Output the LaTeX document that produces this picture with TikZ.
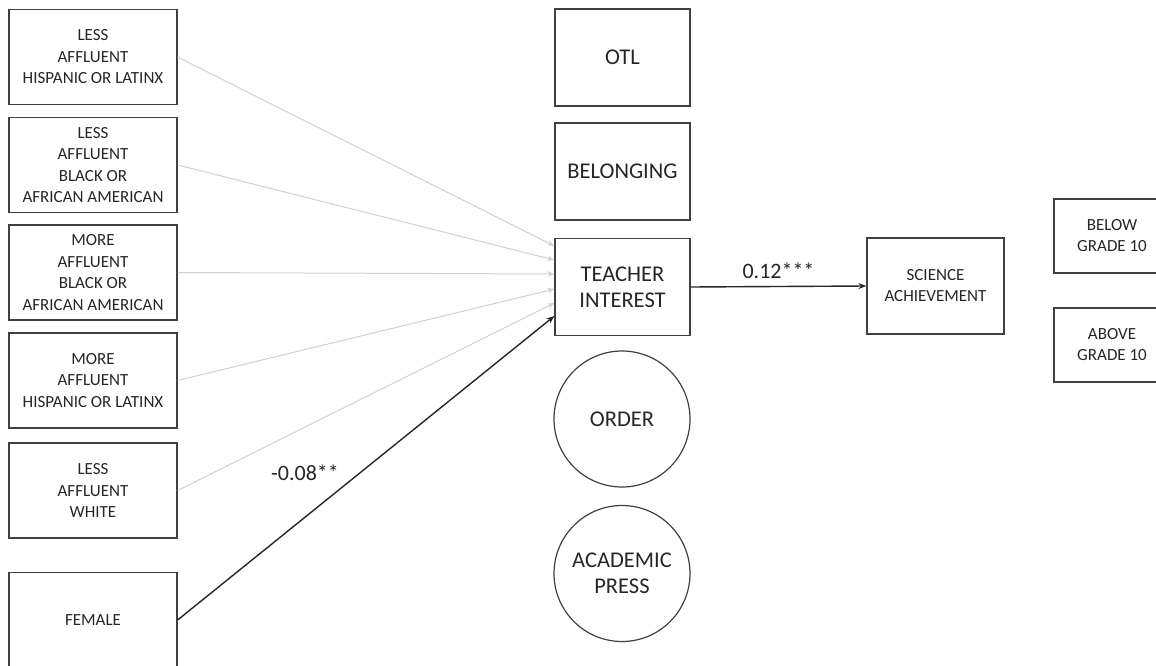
\documentclass[tikz,border=0pt]{standalone}
\usepackage{fontspec}
\setmainfont{Carlito}
\usetikzlibrary{arrows.meta}

\tikzset{
	box/.style = {draw=black!75, line width=1.2pt, align=center, text=black!85, inner sep=0pt},
	group/.style = {box, rectangle, minimum width=168pt, minimum height=95pt, font=\fontsize{17}{21.5}\selectfont},
	mediator/.style = {box, rectangle, minimum width=135pt, minimum height=97pt, font=\fontsize{22.5}{26}\selectfont},
	round/.style = {box, circle, minimum size=136pt, font=\fontsize{22.5}{26}\selectfont},
	outcome/.style = {box, rectangle, minimum width=137pt, minimum height=96pt, font=\fontsize{17}{21}\selectfont},
	grade/.style = {box, rectangle, minimum width=116pt, minimum height=74pt, font=\fontsize{17}{21}\selectfont},
	faint/.style = {draw=black!18, line width=1pt, -{Stealth[length=7pt,width=5.5pt]}},
	effect/.style = {draw=black!85, line width=1.4pt, -{Stealth[length=8pt,width=6pt]}},
	coef/.style = {text=black!85, font=\fontsize{22}{26}\selectfont}
}

\begin{document}
\begin{tikzpicture}[x=1pt, y=-1pt]
	\useasboundingbox (0,0) rectangle (1156,666);
	\clip (0,0) rectangle (1156,666);
	
	% student groups
	\node[group] (lhisp) at (93,57) {LESS\\AFFLUENT\\HISPANIC OR LATINX};
	\node[group] (lblack) at (93,165) {LESS\\AFFLUENT\\BLACK OR\\AFRICAN AMERICAN};
	\node[group] (mblack) at (93,272.5) {MORE\\AFFLUENT\\BLACK OR\\AFRICAN AMERICAN};
	\node[group] (mhisp) at (93,380.5) {MORE\\AFFLUENT\\HISPANIC OR LATINX};
	\node[group] (lwhite) at (93,490.5) {LESS\\AFFLUENT\\WHITE};
	\node[group] (female) at (93,620) {FEMALE};
	
	% mediators
	\node[mediator] (otl) at (622.5,57.5) {OTL};
	\node[mediator] (belong) at (622.5,171.5) {BELONGING};
	\node[mediator] (interest) at (622.5,287) {TEACHER\\INTEREST};
	\node[round] (order) at (622,419) {ORDER};
	\node[round] (press) at (622,573.5) {ACADEMIC\\PRESS};
	
	% outcome
	\node[outcome] (science) at (935.5,286) {SCIENCE\\ACHIEVEMENT};
	\node[grade] (below) at (1112,236) {BELOW\\GRADE 10};
	\node[grade] (above) at (1112,345) {ABOVE\\GRADE 10};
	
	\foreach \src/\dy in {lhisp/41, lblack/27, mblack/13, mhisp/-2, lwhite/-16}
		\draw[faint] (\src.east) -- ([yshift=\dy pt]interest.west);
	
	\draw[effect] (female.east) -- ([yshift=-29pt]interest.west);
	\node[coef] (cfemale) at (305,473) {-0.08**};
	
	\draw[effect] (interest.east) -- (science.west) node[coef, midway, above=4pt] (cscience) {0.12***};
\end{tikzpicture}
\end{document}
